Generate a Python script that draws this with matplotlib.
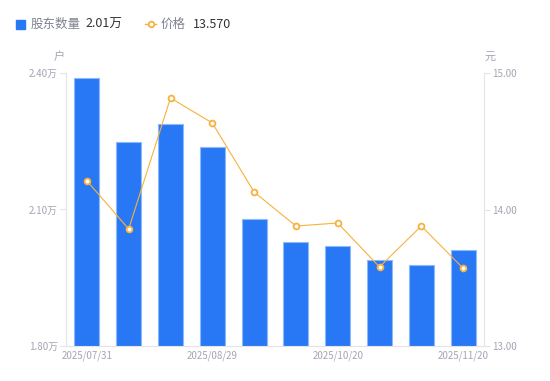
import matplotlib
matplotlib.use("Agg")
import matplotlib.pyplot as plt
from matplotlib.lines import Line2D
import numpy as np

plt.rcParams["font.family"] = ["Noto Sans CJK SC", "DejaVu Sans"]

DATES = ["2025/07/31", "2025/08/10", "2025/08/20", "2025/08/29", "2025/09/10",
         "2025/09/30", "2025/10/20", "2025/10/31", "2025/11/10", "2025/11/20"]
HOLDERS = [2.389, 2.248, 2.288, 2.237, 2.079, 2.029, 2.020, 1.989, 1.978, 2.010]  # 万户
PRICE = [14.21, 13.857, 14.817, 14.634, 14.128, 13.879, 13.901, 13.579, 13.879, 13.570]
SHOWN = [0, 3, 6, 9]

BLUE = "#2878f5"
ORANGE = "#f8b13c"
GREY = "#a3a5b3"
AXIS = "#e3e3e8"

fig = plt.figure(figsize=(5.5, 3.81), dpi=100)
ax = fig.add_axes([66 / 550, 1 - 346 / 381, 418 / 550, 273 / 381])
ax2 = ax.twinx()

x = np.arange(len(DATES))
ax.bar(x, HOLDERS, 0.6, color=BLUE, edgecolor="#8db8fa", linewidth=0.8, zorder=2)
ax.set_xlim(-0.5, len(DATES) - 0.5)
ax.set_ylim(1.80, 2.40)
ax.set_yticks([1.80, 2.10, 2.40])
ax.set_yticklabels(["1.80万", "2.10万", "2.40万"])
ax.set_xticks(x[SHOWN])
ax.set_xticklabels([DATES[i] for i in SHOWN])

ax2.plot(x, PRICE, color=ORANGE, lw=0.8, marker="o", ms=4.2, mfc="white",
         mec=ORANGE, mew=1.3, zorder=3)
ax2.set_ylim(13.0, 15.0)
ax2.set_yticks([13.0, 14.0, 15.0])
ax2.set_yticklabels(["13.00", "14.00", "15.00"])

for a in (ax, ax2):
    for s in a.spines.values():
        s.set_visible(False)
    a.tick_params(labelsize=7, colors=GREY, length=0, pad=4)
ax.spines["left"].set_visible(True)
ax.spines["left"].set_color(AXIS)
ax.spines["bottom"].set_visible(True)
ax.spines["bottom"].set_color(AXIS)
ax2.spines["right"].set_visible(True)
ax2.spines["right"].set_color(AXIS)
ax.tick_params(axis="y", length=4, color=AXIS, width=0.8, pad=2)
ax2.tick_params(axis="y", length=4, color=AXIS, width=0.8, pad=2)
ax.tick_params(axis="x", pad=3)
for lab in ax.get_yticklabels() + ax2.get_yticklabels() + ax.get_xticklabels():
    lab.set_color(GREY)

fig.text(59 / 550, 1 - 57 / 381, "户", fontsize=8, color=GREY, ha="center", va="center")
fig.text(490 / 550, 1 - 57 / 381, "元", fontsize=8, color=GREY, ha="center", va="center")

# legend row
fig.patches.append(plt.Rectangle((16 / 550, 1 - 29 / 381), 9 / 550, 9 / 381,
                                 transform=fig.transFigure, color=BLUE, figure=fig))
fig.text(31 / 550, 1 - 24 / 381, "股东数量", fontsize=9, color="#80838f", va="center")
fig.text(85 / 550, 1 - 24 / 381, f"{HOLDERS[-1]:.2f}万", fontsize=9, color="#333333", va="center")
fig.lines.append(Line2D([145 / 550, 156 / 550], [1 - 24 / 381] * 2, transform=fig.transFigure,
                        color=ORANGE, lw=1))
fig.lines.append(Line2D([150.5 / 550], [1 - 24 / 381], transform=fig.transFigure, color=ORANGE,
                        marker="o", ms=4, mfc="white", mew=1.3, lw=0))
fig.text(161 / 550, 1 - 24 / 381, "价格", fontsize=9, color="#80838f", va="center")
fig.text(193 / 550, 1 - 24 / 381, f"{PRICE[-1]:.3f}", fontsize=9, color="#333333", va="center")

fig.savefig("out.png", dpi=100)
